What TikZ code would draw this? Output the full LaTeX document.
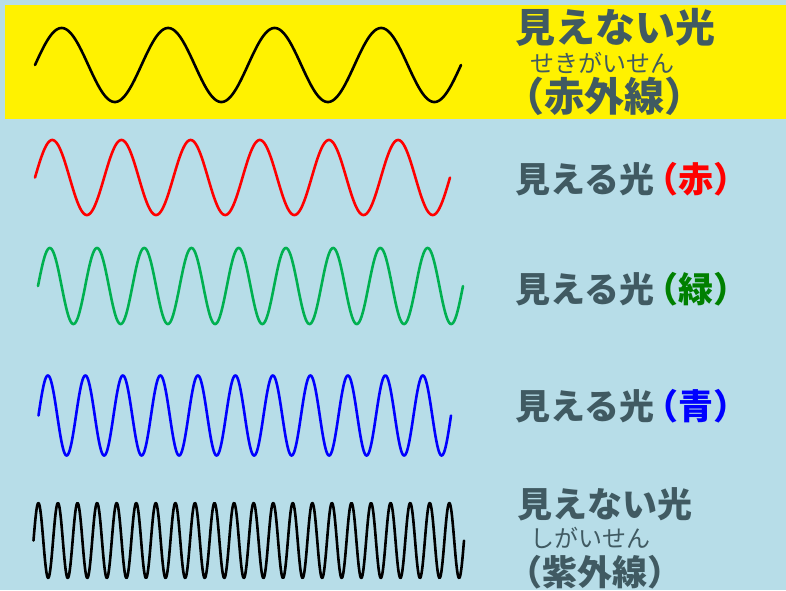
\documentclass[tikz,border=0pt]{standalone}
\usepackage{fontspec}
\setmainfont{Noto Sans CJK JP}
\definecolor{bgblue}{RGB}{183,221,232}
\definecolor{txtgray}{RGB}{64,90,98}
\definecolor{wavegreen}{RGB}{0,176,80}
\definecolor{txtgreen}{RGB}{0,128,0}
\tikzset{
	wave/.style={line width=2.6pt},
	title/.style={anchor=west, inner sep=0pt, text=txtgray, font=\fontsize{35}{35}\selectfont\bfseries},
	bigtitle/.style={title, font=\fontsize{40}{40}\selectfont\bfseries},
	ruby/.style={anchor=west, inner sep=0pt, text=txtgray, font=\fontsize{24}{24}\selectfont},
}
\begin{document}
\begin{tikzpicture}[x=1pt, y=-1pt, line join=round, line cap=round]
	\fill[bgblue] (0,0) rectangle (786,590);
	\fill[yellow] (5,5) rectangle (786,119);
	\useasboundingbox (0,0) rectangle (786,590);
	% colour/centre/periods/start/end/amplitude
	\foreach \col/\yc/\n/\xa/\xb/\amp in {black/65/4/35/461/37, red/177.5/6/35/450/37.5, wavegreen/286/9/38/463/38, blue/415.5/11/38.5/451/40, black/540.5/22/33.5/464/37.5}
		\draw[wave, \col] plot[domain=\xa:\xb, samples=900] (\x, {\yc - \amp*sin(360*\n/(\xb-\xa)*(\x-\xa))});
	\node[bigtitle] (irT) at (515,27.5) {見えない光};
	\node[ruby] (irR) at (530,62.5) {せきがいせん};
	\node[bigtitle] (irP) at (504,96) {（赤外線）};
	\node[title] (redL) at (515,179) {見える光\hspace{-0.3em}\textcolor{red}{（赤）}};
	\node[title] (greenL) at (515,289) {見える光\hspace{-0.3em}\textcolor{txtgreen}{（緑）}};
	\node[title] (blueL) at (515,406) {見える光\hspace{-0.3em}\textcolor{blue}{（青）}};
	\node[title] (uvT) at (517,504) {見えない光};
	\node[ruby] (uvR) at (530,537.5) {しがいせん};
	\node[title] (uvP) at (507,572) {（紫外線）};
\end{tikzpicture}
\end{document}
